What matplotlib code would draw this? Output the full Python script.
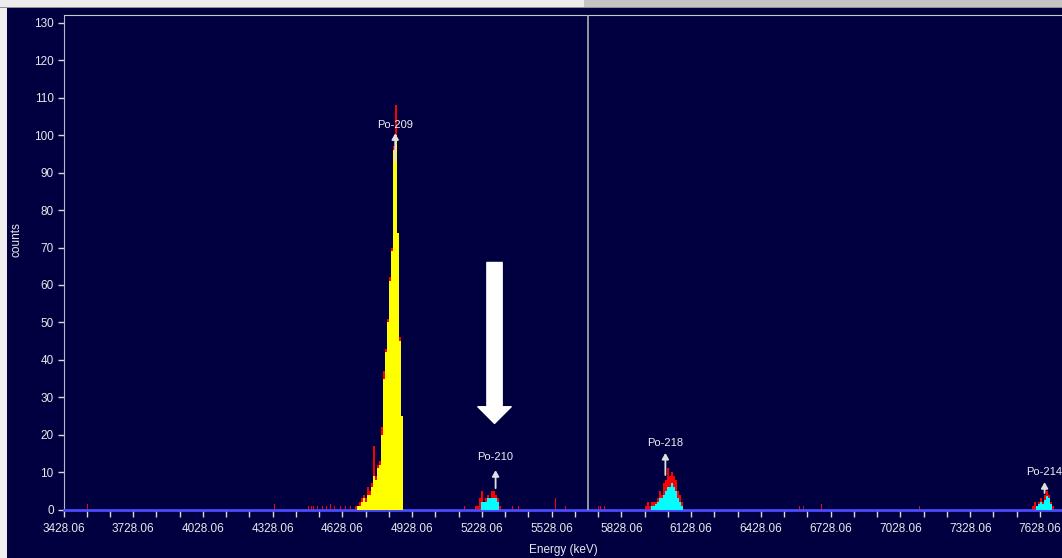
import matplotlib.pyplot as plt
import numpy as np
from matplotlib.patches import Rectangle
from matplotlib.ticker import FixedLocator

# spectrum data (counts per channel), channel width in keV
bin_kev = 8.6

po209_start = 4682.7
po209_counts = [1, 1, 2, 3, 4, 3, 6, 5, 7, 17, 9, 12, 13, 22, 37, 43, 51, 62, 70, 97, 108, 74, 46, 25]
po209_roi = [0, 1, 1, 2, 3, 2, 4, 4, 6, 9, 8, 11, 12, 20, 35, 42, 50, 61, 69, 96, 100, 74, 45, 25]

po210_start = 5199.2
po210_counts = [1, 1, 3, 5, 2, 3, 4, 3, 5, 5, 4, 3, 1]
po210_roi = [0, 0, 0, 2, 2, 2, 3, 3, 3, 3, 3, 2, 0]

po218_start = 5930.8
po218_counts = [1, 2, 1, 2, 2, 2, 3, 5, 4, 7, 8, 11, 9, 10, 9, 8, 5, 4, 2]
po218_roi = [0, 0, 0, 1, 1, 1.5, 2, 3, 3, 4, 5, 6, 6, 7, 6, 5, 3, 2, 1]

po214_start = 7592.2
po214_counts = [1, 2, 1, 2, 3, 2, 4, 5, 4, 2, 1]
po214_roi = [0, 0, 1, 1.5, 2, 1.5, 2.5, 3.5, 3, 1.5, 0]

noise_energy = [3529.2, 4334.1, 4480.4, 4493.3, 4501.9, 4519.1, 4540.6, 4557.9, 4575.1,
                4592.3, 4618.1, 4639.6, 4661.1, 5151.8, 5358.4, 5384.2, 5543.5, 5586.5,
                5728.5, 5737.1, 5754.3, 6593.6, 6610.9, 6688.4, 7110.2]
noise_counts = [1.5, 1.5, 1, 1, 1, 1, 1, 1, 1.5, 1, 1, 1, 1, 1, 1, 1, 3, 1, 1, 1, 1, 1, 1, 1.5, 1]

peak_names = ['Po-209', 'Po-210', 'Po-218', 'Po-214']
peak_energy = [4854.8, 5286.6, 6016.9, 7648.1]
peak_tip = [100.5, 10.5, 15.1, 7.3]
peak_tail = [93, 5.7, 9.2, 4.4]
peak_text_y = [102.7, 14.0, 17.8, 10.0]

marker_energy = 5685.5
big_arrow_energy = 5282.0
big_arrow_top = 66
big_arrow_tip = 23

xtick_major = [3428.06 + 300 * k for k in range(15)]
xtick_minor = [3428.06 + 100 * k for k in range(44)]
yticks = list(range(0, 131, 10))

navy = '#000040'
fig = plt.figure(figsize=(10.62, 5.58), dpi=100)
fig.patch.set_facecolor(navy)
plt.rcParams['font.family'] = ['Liberation Sans', 'DejaVu Sans']

# window chrome (grey strips at top and left)
fig.add_artist(Rectangle((0, 1 - 8 / 558), 1, 8 / 558, transform=fig.transFigure,
                         facecolor='#ececec', edgecolor='none', zorder=-1))
fig.add_artist(Rectangle((0.55, 1 - 7 / 558), 0.45, 7 / 558, transform=fig.transFigure,
                         facecolor='#c4c4c4', edgecolor='none', zorder=-1))
fig.add_artist(Rectangle((0, 1 - 8 / 558), 1, 1.5 / 558, transform=fig.transFigure,
                         facecolor='#909090', edgecolor='none', zorder=-1))
fig.add_artist(Rectangle((0, 0), 7 / 1062, 1 - 8 / 558, transform=fig.transFigure,
                         facecolor='#efefef', edgecolor='none', zorder=-1))

ax = fig.add_axes([63.5 / 1062, 48.5 / 558, 1 - 63.5 / 1062 + 0.002, (509.5 - 14.7) / 558])
ax.set_facecolor(navy)


def draw_peak(start, counts, roi, fill):
    counts = np.array(counts, dtype=float)
    roi = np.array(roi, dtype=float)
    left = start + bin_kev * np.arange(len(counts))
    ax.bar(left, counts, width=bin_kev, align='edge', color='#ff0000', lw=0, zorder=2)
    edges = np.append(left, left[-1] + bin_kev)
    ax.fill_between(edges, np.append(roi, roi[-1]), step='post', color=fill, lw=0, zorder=3)


draw_peak(po209_start, po209_counts, po209_roi, '#ffff00')
draw_peak(po210_start, po210_counts, po210_roi, '#00ffff')
draw_peak(po218_start, po218_counts, po218_roi, '#00ffff')
draw_peak(po214_start, po214_counts, po214_roi, '#00ffff')
ax.bar(noise_energy, noise_counts, width=4.3, color='#ff0000', lw=0, zorder=2)

# marker line
ax.axvline(marker_energy, color='#b0b0b0', lw=1.2, zorder=4)

# peak labels with small arrows
for name, e, tip, tail, ty in zip(peak_names, peak_energy, peak_tip, peak_tail, peak_text_y):
    ax.annotate('', xy=(e, tip), xytext=(e, tail),
                arrowprops=dict(arrowstyle='-|>,head_length=0.35,head_width=0.2',
                                color='#e0e0e0', lw=1.3, shrinkA=0, shrinkB=0), zorder=5)
    ax.text(e, ty, name, color='#f0f0f0', fontsize=8, ha='center', va='center', zorder=5,
            clip_on=False)

# big white arrow
ax.annotate('', xy=(big_arrow_energy, big_arrow_tip), xytext=(big_arrow_energy, big_arrow_top),
            arrowprops=dict(arrowstyle='simple,head_length=1.2,head_width=2.4,tail_width=1.1',
                            color='white', shrinkA=0, shrinkB=0, mutation_scale=10), zorder=6)

ax.set_xlim(3428.06, 3428.06 + 1000 * 4.304)
ax.set_ylim(0, 132.2)
ax.xaxis.set_major_locator(FixedLocator(xtick_major))
ax.xaxis.set_minor_locator(FixedLocator(xtick_minor))
ax.set_xticklabels(['%.2f' % v for v in xtick_major])
ax.set_yticks(yticks)
ax.tick_params(axis='both', which='both', colors='#d8d8d8', labelcolor='#e8e8e8',
               labelsize=8.5, width=1)
ax.tick_params(axis='x', which='both', length=5, pad=5)
ax.tick_params(axis='y', length=4, pad=3)

ax.spines['right'].set_visible(False)
ax.spines['top'].set_color('#c8c8c8')
ax.spines['left'].set_color('#b8b8c8')
ax.spines['bottom'].set_color('#4a4aff')
ax.spines['bottom'].set_linewidth(2)

ax.set_xlabel('Energy (keV)', color='#e8e8e8', fontsize=8.5, labelpad=6)
ax.set_ylabel('counts', color='#e8e8e8', fontsize=8.5)
ax.yaxis.set_label_coords((23 - 63.5) / 998.5, (509.5 - 240) / 494.8)

plt.savefig('out.png', dpi=100, facecolor=fig.get_facecolor())
